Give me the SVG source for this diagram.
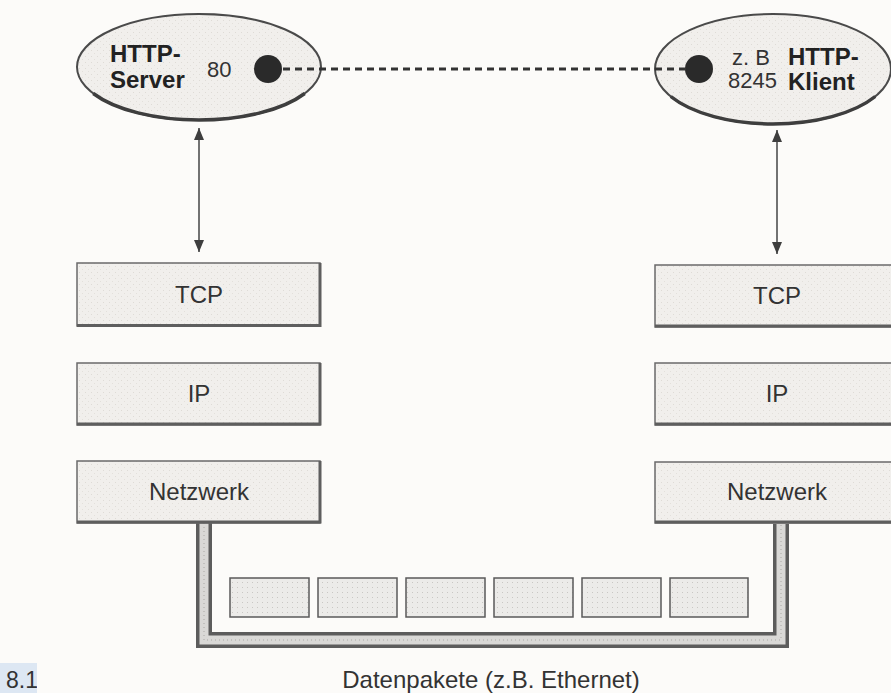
<svg xmlns="http://www.w3.org/2000/svg" width="891" height="693" viewBox="0 0 891 693">
  <style>
    .bold { font-family: "Liberation Sans", Arial, sans-serif; font-weight: bold; font-size: 24px; fill: #222; }
    .reg { font-family: "Liberation Sans", Arial, sans-serif; font-size: 22px; fill: #333; }
    .lbl { font-family: "Liberation Sans", Arial, sans-serif; font-size: 24px; fill: #333; text-anchor: middle; }
    .ell { fill: url(#grain); stroke: #4a4a4a; stroke-width: 2; }
    .rim { fill: none; stroke: #3e3e3e; stroke-width: 3.5; }
    .box { fill: url(#grain); stroke: #6a6a6a; stroke-width: 1.5; }
    .shadow { stroke: #5e5e5e; stroke-width: 3; fill: none; }
    .pkt { fill: url(#dots); stroke: #5a5a5a; stroke-width: 1.5; }
    .port { fill: #2a2a2a; }
    .link { stroke: #444; stroke-width: 1.5; fill: none; }
  </style>
  <defs>
    <pattern id="grain" width="6" height="6" patternUnits="userSpaceOnUse">
      <rect width="6" height="6" fill="#f1efec"/>
      <rect x="1" y="2" width="1" height="1" fill="#dedbd6"/>
      <rect x="4" y="5" width="1" height="1" fill="#e3e0db"/>
    </pattern>
    <pattern id="dots" width="5" height="5" patternUnits="userSpaceOnUse">
      <rect width="5" height="5" fill="#ecebe9"/>
      <rect x="2" y="2" width="1" height="1" fill="#c9c7c4"/>
    </pattern>
    <marker id="head" viewBox="0 0 12 10" markerWidth="12" markerHeight="10" refX="12" refY="5" orient="auto-start-reverse" markerUnits="userSpaceOnUse">
      <path d="M0,0 L12,5 L0,10 z" fill="#3e3e3e"/>
    </marker>
    <clipPath id="capclip"><rect x="0" y="660" width="37" height="33"/></clipPath>
  </defs>

  <rect width="891" height="693" fill="#fcfbf9"/>

  <!-- server application -->
  <g id="http-server">
    <ellipse class="ell" cx="199" cy="67" rx="122" ry="53"/>
    <path class="rim" d="M93.3 93.5 A122 53 0 0 0 304.7 93.5"/>
    <text class="bold" x="110" y="62">HTTP-</text>
    <text class="bold" x="110" y="88">Server</text>
    <text class="reg" x="207" y="77">80</text>
    <circle class="port" cx="268" cy="69" r="14"/>
  </g>

  <!-- client application -->
  <g id="http-klient">
    <ellipse class="ell" cx="773" cy="69" rx="118" ry="55"/>
    <path class="rim" d="M670.8 96.5 A118 55 0 0 0 875.2 96.5"/>
    <circle class="port" cx="699" cy="69" r="14"/>
    <text class="reg" x="732" y="65" font-size="21">z. B</text>
    <text class="reg" x="728" y="88" font-size="21">8245</text>
    <text class="bold" x="788" y="65" font-size="23">HTTP-</text>
    <text class="bold" x="788" y="90" font-size="23">Klient</text>
  </g>

  <!-- connectors -->
  <g id="connectors">
    <line x1="283" y1="69" x2="686" y2="69" stroke="#333" stroke-width="3" stroke-dasharray="7 5"/>
    <line class="link" x1="199" y1="128" x2="199" y2="252" marker-start="url(#head)" marker-end="url(#head)"/>
    <line class="link" x1="777" y1="130" x2="777" y2="254" marker-start="url(#head)" marker-end="url(#head)"/>
    <!-- network cable -->
    <path d="M204 523 V640 H781 V524" fill="none" stroke="#5c5c5c" stroke-width="16" stroke-linejoin="miter"/>
    <path d="M204 523 V640 H781 V524" fill="none" stroke="#d9d8d6" stroke-width="9" stroke-linejoin="miter"/>
    <path d="M204 523 V640 H781 V524" fill="none" stroke="#a9a7a4" stroke-width="1" stroke-dasharray="1 3"/>
  </g>

  <!-- server stack -->
  <g id="server-tcp">
    <rect class="box" x="77" y="263" width="243" height="63"/>
    <path class="shadow" d="M77 325.5 H320 V263"/>
    <text class="lbl" x="199" y="303">TCP</text>
  </g>
  <g id="server-ip">
    <rect class="box" x="77" y="363" width="243" height="62"/>
    <path class="shadow" d="M77 424 H320 V363"/>
    <text class="lbl" x="199" y="402">IP</text>
  </g>
  <g id="server-netzwerk">
    <rect class="box" x="77" y="461" width="243" height="62"/>
    <path class="shadow" d="M77 522 H320 V461"/>
    <text class="lbl" x="199" y="500">Netzwerk</text>
  </g>

  <!-- client stack -->
  <g id="klient-tcp">
    <rect class="box" x="655" y="265" width="243" height="62"/>
    <path class="shadow" d="M655 326 H898"/>
    <text class="lbl" x="777" y="304">TCP</text>
  </g>
  <g id="klient-ip">
    <rect class="box" x="655" y="363" width="243" height="62"/>
    <path class="shadow" d="M655 424 H898"/>
    <text class="lbl" x="777" y="402">IP</text>
  </g>
  <g id="klient-netzwerk">
    <rect class="box" x="655" y="462" width="243" height="61"/>
    <path class="shadow" d="M655 522 H898"/>
    <text class="lbl" x="777" y="500">Netzwerk</text>
  </g>

  <!-- data packets on the wire -->
  <g id="pakete">
    <rect class="pkt" x="230" y="578" width="79" height="39"/>
    <rect class="pkt" x="318" y="578" width="79" height="39"/>
    <rect class="pkt" x="406" y="578" width="79" height="39"/>
    <rect class="pkt" x="494" y="578" width="79" height="39"/>
    <rect class="pkt" x="582" y="578" width="79" height="39"/>
    <rect class="pkt" x="670" y="578" width="78" height="39"/>
  </g>

  <text class="lbl" x="491" y="688">Datenpakete (z.B. Ethernet)</text>

  <!-- figure number -->
  <g id="caption">
    <rect x="0" y="663" width="37" height="30" fill="#dde7f3"/>
    <text x="6" y="688" clip-path="url(#capclip)" font-family="Liberation Sans, Arial, sans-serif" font-size="23" fill="#333">8.1</text>
  </g>
</svg>
